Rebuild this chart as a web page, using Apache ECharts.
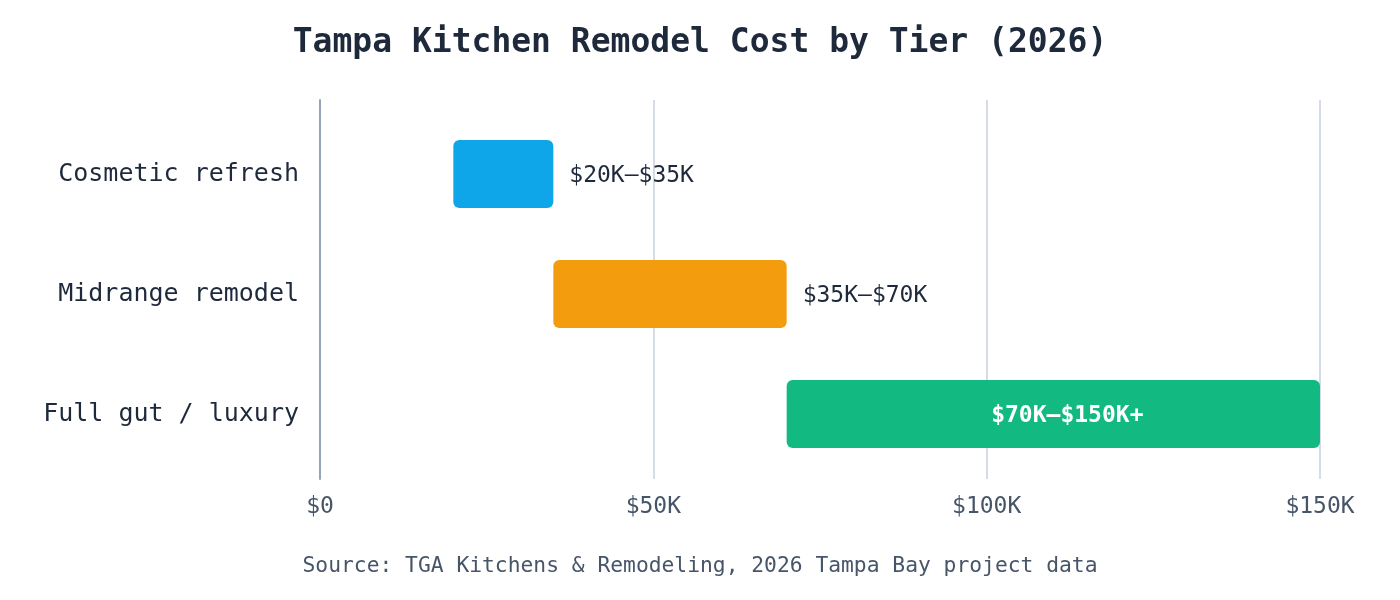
<!DOCTYPE html>
<html lang="en">

<head>
  <meta charset="UTF-8" />
  <title>Tampa Kitchen Remodel Cost by Tier (2026)</title>
  <script src="https://cdn.jsdelivr.net/npm/echarts@6.0.0/dist/echarts.min.js"></script>
  <style>
    html, body {
      margin: 0;
      padding: 0;
      background: #ffffff;
    }

    #chart {
      width: 1400px;
      height: 600px;
    }
  </style>
</head>

<body>
  <div id="chart"></div>

  <script>
    // data
    const tiers = ["Cosmetic refresh", "Midrange remodel", "Full gut / luxury"];
    const lowCost = [20000, 35000, 70000];
    const highCost = [35000, 70000, 150000];
    const rangeLabels = ["$20K–$35K", "$35K–$70K", "$70K–$150K+"];
    const tierColors = ["#0ea5e9", "#f39c0e", "#12b981"];
    const xTicks = [0, 50000, 100000, 150000];

    const FONT = "DejaVu Sans Mono";

    const chart = echarts.init(document.getElementById("chart"));

    const fmtMoney = (v) => (v === 0 ? "$0" : "$" + v / 1000 + "K");

    // last tier gets its label inside the bar, the others to the right
    const rangeData = tiers.map((t, i) => {
      const inside = i === tiers.length - 1;
      return {
        value: highCost[i] - lowCost[i],
        itemStyle: { color: tierColors[i], borderRadius: 6 },
        label: inside
          ? { position: "inside", color: "#ffffff", fontWeight: "bold", offset: [14, 2] }
          : { position: "right", distance: 16, color: "#1e293b", offset: [0, 2] },
      };
    });

    chart.setOption({
      animation: false,
      title: [
        {
          text: "Tampa Kitchen Remodel Cost by Tier (2026)",
          left: "center",
          top: 22,
          textStyle: {
            fontFamily: FONT,
            fontSize: 33,
            fontWeight: "bold",
            color: "#1e293b",
          },
        },
        {
          text: "Source: TGA Kitchens & Remodeling, 2026 Tampa Bay project data",
          left: "center",
          top: 551,
          textStyle: {
            fontFamily: FONT,
            fontSize: 21.3,
            fontWeight: "normal",
            color: "#475569",
          },
        },
      ],
      // grid 0 carries the frame (split lines, ticks), grid 1 holds the bars
      grid: [
        { left: 320, right: 80, top: 100, bottom: 121 },
        { left: 320, right: 80, top: 114, bottom: 126 },
      ],
      xAxis: [
        {
          gridIndex: 0,
          type: "value",
          min: xTicks[0],
          max: xTicks[xTicks.length - 1],
          interval: 50000,
          axisLine: { show: false },
          axisTick: { show: false },
          splitLine: { lineStyle: { color: "#d6dce6", width: 2 } },
          axisLabel: {
            formatter: fmtMoney,
            fontFamily: FONT,
            fontSize: 23,
            color: "#475569",
            margin: 17,
          },
        },
        {
          gridIndex: 1,
          type: "value",
          min: xTicks[0],
          max: xTicks[xTicks.length - 1],
          show: false,
        },
      ],
      yAxis: [
        {
          gridIndex: 0,
          type: "category",
          data: tiers,
          inverse: true,
          axisLine: { lineStyle: { color: "#94a3b8", width: 2 } },
          axisTick: { show: false },
          axisLabel: { show: false },
        },
        {
          gridIndex: 1,
          type: "category",
          data: tiers,
          inverse: true,
          axisLine: { show: false },
          axisTick: { show: false },
          axisLabel: {
            fontFamily: FONT,
            fontSize: 25,
            color: "#1e293b",
            margin: 21,
          },
        },
      ],
      series: [
        {
          type: "bar",
          xAxisIndex: 1,
          yAxisIndex: 1,
          stack: "range",
          barWidth: 68,
          silent: true,
          itemStyle: { color: "transparent" },
          data: lowCost,
        },
        {
          type: "bar",
          xAxisIndex: 1,
          yAxisIndex: 1,
          stack: "range",
          barWidth: 68,
          label: {
            show: true,
            fontFamily: FONT,
            fontSize: 23,
            formatter: (p) => rangeLabels[p.dataIndex],
          },
          data: rangeData,
        },
      ],
    });
  </script>
</body>

</html>
